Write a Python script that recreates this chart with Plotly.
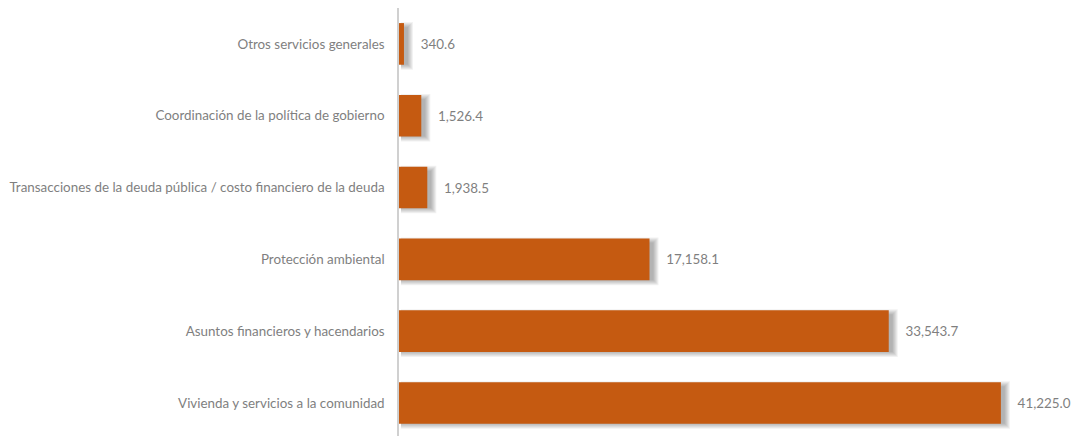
import plotly.graph_objects as go

categories = [
    "Otros servicios generales",
    "Coordinación de la política de gobierno",
    "Transacciones de la deuda pública / costo financiero de la deuda",
    "Protección ambiental",
    "Asuntos financieros y hacendarios",
    "Vivienda y servicios a la comunidad",
]
values = [340.6, 1526.4, 1938.5, 17158.1, 33543.7, 41225.0]

BAR_COLOR = "#C55A11"
TEXT_COLOR = "#7F7F7F"
FONT = "Lato, 'Open Sans', sans-serif"
FS = 13.4

# page body has an 8px default margin; compensate so the plot lands where the reference is
FIG_W, FIG_H = 1073, 428
L = 391
XMAX = 45000
PLOT_W = 657
PLOT_H = FIG_H
Y_RANGE = [-0.46, 5.5]
ux = XMAX / PLOT_W
uy = (Y_RANGE[1] - Y_RANGE[0]) / PLOT_H
BW = 0.58

fig = go.Figure()

# soft drop shadow (layered translucent bars)
dx, dy = 4, 2
for spread in [5, 4, 3, 2, 1, 0]:
    w = BW + 2 * spread * uy - 2 * 2 * uy
    if w <= 0:
        continue
    fig.add_trace(go.Bar(
        y=categories,
        x=[v + (dx + spread) * ux - 2 * ux for v in values],
        base=[2 * ux] * len(values),
        orientation="h",
        width=w,
        offset=-w / 2 - dy * uy,
        marker=dict(color="rgba(0,0,0,0.055)", line=dict(width=0)),
        hoverinfo="skip",
        showlegend=False,
    ))

fig.add_trace(go.Bar(
    y=categories,
    x=values,
    orientation="h",
    width=BW,
    offset=-BW / 2,
    marker=dict(color=BAR_COLOR, line=dict(width=0)),
    text=[f"{v:,.1f}" for v in values],
    texttemplate="\u00a0\u00a0\u00a0\u00a0%{text}",
    textposition="outside",
    cliponaxis=False,
    textfont=dict(family=FONT, size=FS, color=TEXT_COLOR),
    showlegend=False,
))

fig.update_layout(
    width=FIG_W,
    height=FIG_H,
    margin=dict(l=L, r=FIG_W - L - PLOT_W, t=0, b=0),
    paper_bgcolor="white",
    plot_bgcolor="white",
    barmode="overlay",
    font=dict(family=FONT, size=FS, color=TEXT_COLOR),
    xaxis=dict(range=[0, XMAX], visible=False, showgrid=False, zeroline=False),
    yaxis=dict(
        type="category",
        categoryorder="array",
        categoryarray=categories[::-1],
        range=Y_RANGE,
        showline=True,
        linecolor="#D0D0D0",
        linewidth=1.5,
        ticks="",
        showgrid=False,
        automargin=False,
        ticklabelstandoff=10,
        tickfont=dict(family=FONT, size=FS, color=TEXT_COLOR),
    ),
)

fig.write_html("out.html")
